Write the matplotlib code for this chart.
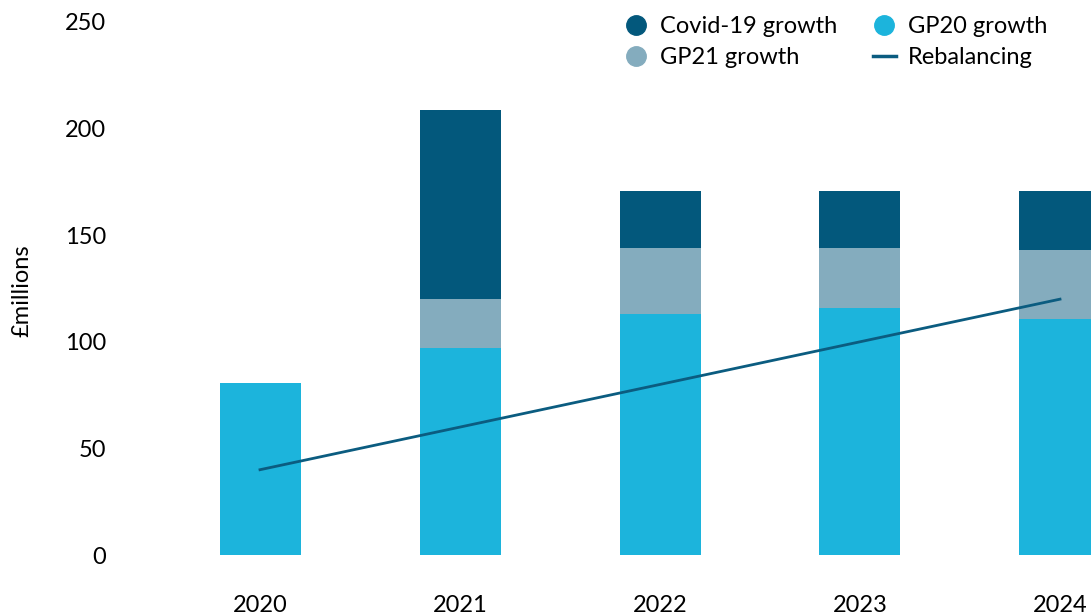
import matplotlib as mpl
import matplotlib.pyplot as plt
from matplotlib.lines import Line2D

mpl.rcParams['font.family'] = ['Lato', 'DejaVu Sans']
mpl.rcParams['font.size'] = 17

# chart data (£ millions)
years = ["2020", "2021", "2022", "2023", "2024"]
gp20_growth = [80.5, 97, 113, 116, 110.5]
gp21_growth = [0, 23, 31, 28, 32.5]
covid_growth = [0, 88.5, 26.5, 26.5, 27.5]
rebalancing = [40, 60, 80, 100, 120]

COVID_COL = "#03587C"
GP21_COL = "#84ACBE"
GP20_COL = "#1CB4DC"
LINE_COL = "#0B5C80"

fig = plt.figure(figsize=(10.91, 6.15), dpi=100)
ax = fig.add_axes([120 / 1091, 60 / 615, 971 / 1091, 533 / 615])

x = list(range(len(years)))
width = 0.405
bottom2 = gp20_growth
bottom3 = [a + b for a, b in zip(gp20_growth, gp21_growth)]

ax.bar(x, gp20_growth, width, color=GP20_COL, zorder=2)
ax.bar(x, gp21_growth, width, bottom=bottom2, color=GP21_COL, zorder=2)
ax.bar(x, covid_growth, width, bottom=bottom3, color=COVID_COL, zorder=2)
ax.plot(x, rebalancing, color=LINE_COL, lw=2, zorder=3)

ax.set_xlim(-0.7, 4.155)
ax.set_ylim(0, 250)
ax.set_yticks([0, 50, 100, 150, 200, 250])
ax.set_xticks(x)
ax.set_xticklabels(years)
ax.tick_params(axis='both', length=0)
ax.tick_params(axis='x', pad=29)
ax.tick_params(axis='y', pad=10)
for s in ax.spines.values():
    s.set_visible(False)

ax.set_ylabel("£millions", fontsize=17)
ax.yaxis.set_label_coords(-88 / 971, 0.495)

handles = [
    Line2D([], [], ls='none', marker='o', ms=14, color=COVID_COL),
    Line2D([], [], ls='none', marker='o', ms=14, color=GP21_COL),
    Line2D([], [], ls='none', marker='o', ms=14, color=GP20_COL),
    Line2D([], [], color=LINE_COL, lw=2.5),
]
labels = ["Covid-19 growth", "GP21 growth", "GP20 growth", "Rebalancing"]
fig.legend(handles, labels, ncol=2, loc='upper left',
           bbox_to_anchor=(615 / 1091, 1 - 7 / 615), frameon=False,
           handlelength=1.0, handletextpad=0.5, columnspacing=1.5,
           labelspacing=0.42, borderaxespad=0)

fig.savefig("out.png", dpi=100)
